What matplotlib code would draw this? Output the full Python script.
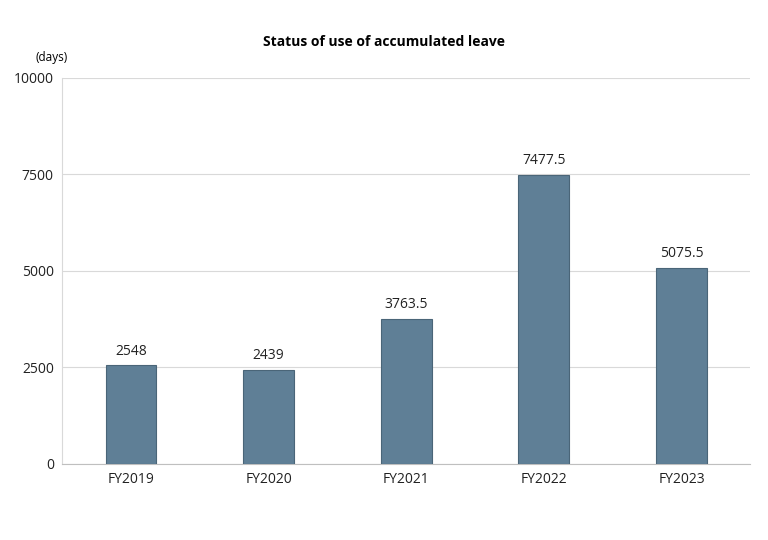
import matplotlib
matplotlib.use("Agg")
import matplotlib.pyplot as plt

categories = ["FY2019", "FY2020", "FY2021", "FY2022", "FY2023"]
values = [2548, 2439, 3763.5, 7477.5, 5075.5]
labels = ["2548", "2439", "3763.5", "7477.5", "5075.5"]
yticks = [0, 2500, 5000, 7500, 10000]

plt.rcParams["font.family"] = "Open Sans"
fig = plt.figure(figsize=(7.68, 5.4), dpi=100)
ax = fig.add_axes([0.081, 0.141, 0.896, 0.715])
x = range(len(categories))
ax.bar(x, values, width=0.37, color="#5f7f96", edgecolor="#4a6578", linewidth=0.8, zorder=3)
for i, (v, l) in enumerate(zip(values, labels)):
    ax.text(i, v + 180, l, ha="center", va="bottom", fontsize=10, color="#222222")
ax.set_ylim(0, 10000)
ax.set_xlim(-0.5, 4.5)
ax.set_yticks(yticks)
ax.set_yticklabels([str(t) for t in yticks], fontsize=10)
ax.set_xticks(list(x))
ax.set_xticklabels(categories, fontsize=10)
ax.grid(axis="y", color="#d9d9d9", linewidth=0.8, zorder=0)
for s in ["top", "right"]:
    ax.spines[s].set_visible(False)
ax.spines["left"].set_color("#d9d9d9")
ax.spines["bottom"].set_color("#bfbfbf")
ax.tick_params(axis="both", length=0, pad=6, colors="#222222")
fig.text(0.5, 1 - 42 / 540, "Status of use of accumulated leave", ha="center", va="center",
         fontsize=10, fontweight="bold")
fig.text(35 / 768, 1 - 57 / 540, "(days)", ha="left", va="center", fontsize=8.5)
fig.savefig("out.png", dpi=100)
